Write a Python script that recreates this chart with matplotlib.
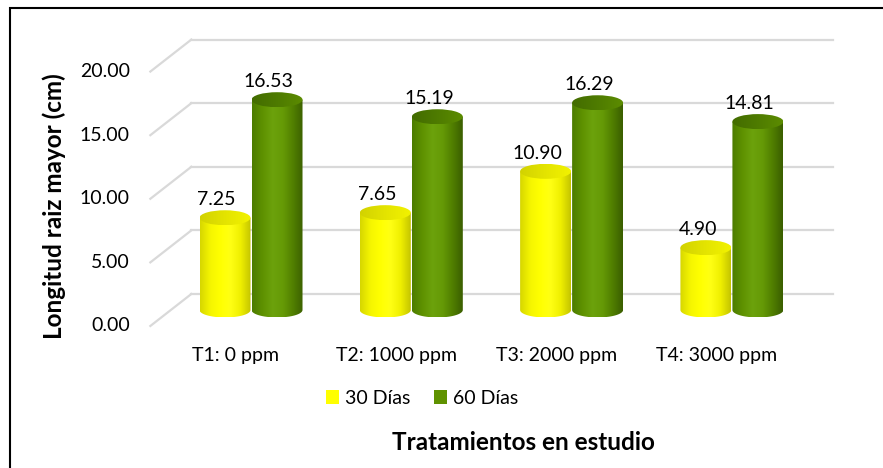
import numpy as np
import matplotlib.pyplot as plt
import matplotlib.transforms as mtransforms
from matplotlib.patches import Ellipse, PathPatch, Rectangle, Patch
from matplotlib.path import Path
from matplotlib.colors import LinearSegmentedColormap

plt.rcParams['font.family'] = ['Lato', 'DejaVu Sans']

categories = ['T1: 0 ppm', 'T2: 1000 ppm', 'T3: 2000 ppm', 'T4: 3000 ppm']
dias_30 = [7.25, 7.65, 10.90, 4.90]
dias_60 = [16.53, 15.19, 16.29, 14.81]
series_names = ['30 Días', '60 Días']
y_ticks = [0, 5, 10, 15, 20]

W, H = 883, 468
fig = plt.figure(figsize=(W / 100, H / 100), dpi=100)

# axes box in pixels (from top-left)
ax_left, ax_right, ax_top, ax_bot = 100, 860, 30, 340
ax = fig.add_axes([ax_left / W, 1 - ax_bot / H,
                   (ax_right - ax_left) / W, (ax_bot - ax_top) / H])
xlim = (-0.942, 3.799)
ylim = (-2.36, 22.01)
ax.set_xlim(*xlim)
ax.set_ylim(*ylim)
ax.axis('off')

# pixels per data unit
sx = (ax_right - ax_left) / (xlim[1] - xlim[0])
sy = (ax_bot - ax_top) / (ylim[1] - ylim[0])

# 3D depth: back wall and front edge shifted from the bar plane
depth_x, depth_y = 20.5, 16
back = ax.transData + mtransforms.ScaledTranslation(depth_x / 100, depth_y / 100, fig.dpi_scale_trans)
front = ax.transData + mtransforms.ScaledTranslation(-depth_x / 100, -depth_y / 100, fig.dpi_scale_trans)
inv = ax.transData.inverted()

grid_color = '#D9D9D9'
for v in y_ticks:
    ax.plot([-0.5, 3.5], [v, v], transform=back, color=grid_color, lw=1.6,
            clip_on=False, zorder=0)
    p1 = inv.transform(front.transform((-0.5, v)))
    p2 = inv.transform(back.transform((-0.5, v)))
    ax.plot([p1[0], p2[0]], [p1[1], p2[1]], color=grid_color, lw=1.6,
            clip_on=False, zorder=0)
    ax.annotate(f'{v:.2f}', xy=(-0.5, v), xycoords=front, xytext=(-14.8, 0),
                textcoords='offset points', ha='right', va='center', fontsize=14)

yellow_cmap = LinearSegmentedColormap.from_list(
    'yel', ['#D6D600', '#F5F500', '#FFFF00', '#FFFF14', '#EFEF00', '#C4C400'])
green_cmap = LinearSegmentedColormap.from_list(
    'grn', ['#4C7C00', '#5E9100', '#6CA20C', '#659A06', '#507E00', '#3A5E00'])
yellow_top = LinearSegmentedColormap.from_list('yt', ['#D2D200', '#E4E400', '#F2F200'])
green_top = LinearSegmentedColormap.from_list('gt', ['#436C00', '#4E7B00', '#5C8C00'])

bar_w = 51 / sx
ell_h = 15 / sy
offset = 52 / sx / 2
grad = np.linspace(0, 1, 256).reshape(1, -1)


def cylinder(x, v, cmap, top_cmap):
    theta = np.linspace(0, np.pi, 40)
    arc = np.column_stack([x + bar_w / 2 * np.cos(theta), -ell_h / 2 * np.sin(theta)])
    verts = [(x - bar_w / 2, v), (x + bar_w / 2, v)] + [tuple(p) for p in arc] + [(x - bar_w / 2, v)]
    codes = [Path.MOVETO] + [Path.LINETO] * (len(verts) - 2) + [Path.CLOSEPOLY]
    body = PathPatch(Path(verts, codes), facecolor='none', edgecolor='none')
    ax.add_patch(body)
    im = ax.imshow(grad, cmap=cmap, extent=[x - bar_w / 2, x + bar_w / 2, -ell_h / 2, v],
                   aspect='auto', interpolation='bicubic', zorder=2)
    im.set_clip_path(body)

    top = Ellipse((x, v), bar_w, ell_h, facecolor='none', edgecolor='none')
    ax.add_patch(top)
    im_top = ax.imshow(grad, cmap=top_cmap,
                       extent=[x - bar_w / 2, x + bar_w / 2, v - ell_h / 2, v + ell_h / 2],
                       aspect='auto', interpolation='bicubic', zorder=3)
    im_top.set_clip_path(top)

    ax.annotate(f'{v:.2f}', xy=(x, v), xytext=(-6, 9), textcoords='offset points',
                ha='center', va='baseline', fontsize=14, zorder=4)


for i in range(len(categories)):
    cylinder(i - offset, dias_30[i], yellow_cmap, yellow_top)
    cylinder(i + offset, dias_60[i], green_cmap, green_top)
    ax.annotate(categories[i], xy=(i, 0), xytext=(-11, -33),
                textcoords='offset points', ha='center', va='center', fontsize=14)

ax.set_xlim(*xlim)
ax.set_ylim(*ylim)

handles = [Patch(facecolor='#FFFF00', label=series_names[0]),
           Patch(facecolor='#5F9200', label=series_names[1])]
fig.legend(handles=handles, loc='center', bbox_to_anchor=(422 / W, 1 - 398 / H),
           ncol=2, frameon=False, fontsize=14, handlelength=0.7, handleheight=0.7,
           handletextpad=0.3, columnspacing=1.2)

fig.text(54 / W, 1 - 206 / H, 'Longitud raiz mayor (cm)', rotation=90,
         fontweight='bold', fontsize=17.5, ha='center', va='center')
fig.text(523 / W, 1 - 443 / H, 'Tratamientos en estudio',
         fontweight='bold', fontsize=17.5, ha='center', va='center')

# chart border
top_frac = 1 - 8 / H
fig.add_artist(Rectangle((10 / W, -0.05), 1.1, top_frac + 0.05, transform=fig.transFigure,
                         fill=False, edgecolor='black', lw=1.5))

fig.savefig('out.png', dpi=100)
